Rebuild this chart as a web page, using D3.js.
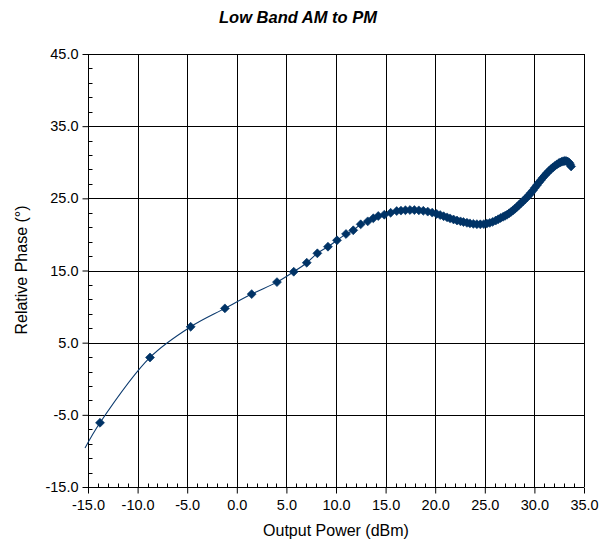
<!DOCTYPE html>
<html>
<head>
<meta charset="utf-8">
<script src="https://cdn.jsdelivr.net/npm/d3@7"></script>
<style>
  body { margin: 0; background: #fff; }
  text { font-family: "Liberation Sans", Arial, sans-serif; fill: #000; }
</style>
</head>
<body>
<div id="chart"></div>
<script>
// Low Band AM to PM - phase vs output power

// lead-in of the smoothed line (no marker shown there)
const leadPower = [-15.3];
const leadPhase = [-9.6];

// measured points (output power dBm, relative phase deg)
const outputPower = [
  -13.79, -8.75, -4.65, -1.2, 1.5, 4.05, 5.74, 7.05, 8.12, 9.19, 10.1, 11.01, 11.74, 12.49,
  13.2, 13.76, 14.26, 14.87, 15.51, 16.12, 16.55, 17.0, 17.46, 17.9, 18.35, 18.8, 19.25,
  19.7, 20.15, 20.5, 20.85, 21.2, 21.5, 21.85, 22.2, 22.55, 22.85, 23.2, 23.5, 23.85, 24.2,
  24.55, 24.9, 25.2, 25.5, 25.8, 26.1, 26.35, 26.6, 26.85, 27.05, 27.25, 27.45, 27.65,
  27.85, 28.05, 28.25, 28.45, 28.65, 28.85, 29.05, 29.25, 29.45, 29.65, 29.85, 30.05,
  30.25, 30.45, 30.65, 30.85, 31.05, 31.25, 31.45, 31.65, 31.85, 32.05, 32.25, 32.45,
  32.6, 32.75, 32.9, 33.05, 33.2, 33.35, 33.5, 33.6, 33.7
];
const relativePhase = [
  -6.1, 2.95, 7.2, 9.75, 11.73, 13.39, 14.83, 16.08, 17.38, 18.3, 19.18, 20.06, 20.57, 21.4,
  21.81, 22.23, 22.55, 22.73, 23.0, 23.24, 23.3, 23.35, 23.38, 23.37, 23.33, 23.27, 23.16,
  23.02, 22.84, 22.68, 22.52, 22.36, 22.22, 22.07, 21.93, 21.81, 21.71, 21.61, 21.53, 21.46, 21.42,
  21.4, 21.43, 21.5, 21.6, 21.74, 21.92, 22.1, 22.28, 22.45, 22.58, 22.74, 22.92, 23.12,
  23.34, 23.57, 23.82, 24.08, 24.34, 24.6, 24.86, 25.14, 25.44, 25.76, 26.1, 26.46,
  26.82, 27.18, 27.52, 27.86, 28.18, 28.48, 28.76, 29.02, 29.26, 29.48, 29.68, 29.86,
  29.98, 30.07, 30.14, 30.18, 30.18, 30.1, 29.95, 29.72, 29.42
];

const xTicks = [-15, -10, -5, 0, 5, 10, 15, 20, 25, 30, 35];
const yTicks = [-15, -5, 5, 15, 25, 35, 45];

const width = 600;
const height = 544;

const svg = d3.select("#chart")
    .append("svg")
    .attr("width", width)
    .attr("height", height);

svg.append("rect")
    .attr("width", width)
    .attr("height", height)
    .attr("fill", "#fff");

const x = d3.scaleLinear().domain([-15, 35]).range([88, 584]);
const y = d3.scaleLinear().domain([-15, 45]).range([487, 54]);

// gridlines
svg.append("g")
    .selectAll("line")
    .data(xTicks.slice(1))
    .join("line")
    .attr("x1", d => Math.round(x(d)) + 0.5)
    .attr("x2", d => Math.round(x(d)) + 0.5)
    .attr("y1", y(45))
    .attr("y2", y(-15))
    .attr("stroke", "#000")
    .attr("stroke-width", 1);

svg.append("g")
    .selectAll("line")
    .data(yTicks.slice(1))
    .join("line")
    .attr("x1", x(-15))
    .attr("x2", x(35))
    .attr("y1", d => Math.round(y(d)) + 0.5)
    .attr("y2", d => Math.round(y(d)) + 0.5)
    .attr("stroke", "#000")
    .attr("stroke-width", 1);

// x axis: major ticks outside, minor ticks inside
const xAxisG = svg.append("g")
    .attr("transform", `translate(0, ${Math.round(y(-15)) + 0.5})`);

xAxisG.call(d3.axisBottom(x).tickValues(xTicks).tickSize(6).tickFormat(d => d.toFixed(1)));
xAxisG.selectAll("text")
    .attr("y", 12)
    .style("font-size", "14.5px")
    .style("font-family", "Liberation Sans, Arial, sans-serif");

xAxisG.call(g => g.select(".domain").attr("d", `M${x(-15)},0H${x(35)}`));

xAxisG.append("g")
    .selectAll("line")
    .data(d3.range(-15, 36, 1).filter(v => v % 5 !== 0))
    .join("line")
    .attr("x1", d => Math.round(x(d)) + 0.5)
    .attr("x2", d => Math.round(x(d)) + 0.5)
    .attr("y1", 0)
    .attr("y2", -4)
    .attr("stroke", "#000");

// y axis
const yAxisG = svg.append("g")
    .attr("transform", `translate(${Math.round(x(-15)) + 0.5}, 0)`);

yAxisG.call(d3.axisLeft(y).tickValues(yTicks).tickSize(6).tickFormat(d => d.toFixed(1)));
yAxisG.selectAll("text")
    .attr("x", -10)
    .style("font-size", "14.5px")
    .style("font-family", "Liberation Sans, Arial, sans-serif");

yAxisG.call(g => g.select(".domain").attr("d", `M0,${y(-15)}V${y(45)}`));

yAxisG.append("g")
    .selectAll("line")
    .data(d3.range(-15, 46, 2).filter(v => (v + 15) % 10 !== 0))
    .join("line")
    .attr("x1", 0)
    .attr("x2", 4)
    .attr("y1", d => Math.round(y(d)) + 0.5)
    .attr("y2", d => Math.round(y(d)) + 0.5)
    .attr("stroke", "#000");

svg.selectAll(".tick line").attr("stroke", "#000");
svg.selectAll(".domain").attr("stroke", "#000");

// smoothed line through all points
const points = outputPower.map((p, i) => ({power: p, phase: relativePhase[i]}));
const linePoints = leadPower.map((p, i) => ({power: p, phase: leadPhase[i]})).concat(points);

const line = d3.line()
    .x(d => x(d.power))
    .y(d => y(d.phase))
    .curve(d3.curveCatmullRom.alpha(0.5));

svg.append("path")
    .datum(linePoints)
    .attr("d", line)
    .attr("fill", "none")
    .attr("stroke", "#0b3a6e")
    .attr("stroke-width", 1.1);

// diamond markers
const diamond = d3.symbol().type(d3.symbolSquare).size(40);

svg.append("g")
    .selectAll("path")
    .data(points)
    .join("path")
    .attr("d", diamond)
    .attr("transform", d => `translate(${x(d.power)}, ${y(d.phase)}) rotate(45)`)
    .attr("fill", "#003366")
    .attr("stroke", "#003366")
    .attr("stroke-width", 0.6);

// titles
svg.append("text")
    .attr("x", 298)
    .attr("y", 23)
    .attr("text-anchor", "middle")
    .style("font-size", "16.5px")
    .style("font-weight", "bold")
    .style("font-style", "italic")
    .text("Low Band AM to PM");

svg.append("text")
    .attr("x", 336)
    .attr("y", 536)
    .attr("text-anchor", "middle")
    .style("font-size", "16px")
    .text("Output Power (dBm)");

svg.append("text")
    .attr("transform", "translate(27, 270) rotate(-90)")
    .attr("text-anchor", "middle")
    .style("font-size", "16px")
    .text("Relative Phase (°)");
</script>
</body>
</html>
